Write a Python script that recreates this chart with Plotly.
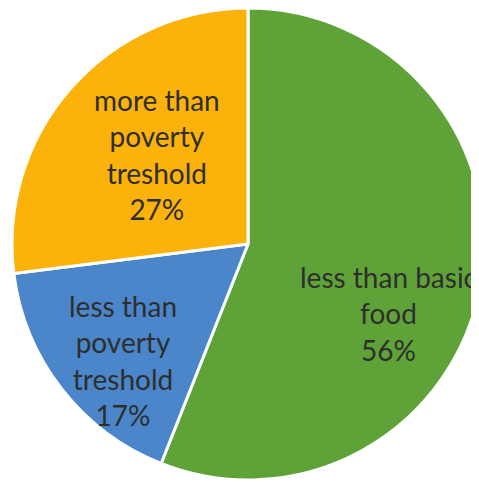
import plotly.graph_objects as go

labels = ["less than basic food", "less than poverty treshold", "more than poverty treshold"]
label_lines = ["less than basic<br>food", "less than<br>poverty<br>treshold", "more than<br>poverty<br>treshold"]
values = [56, 17, 27]
colors = ["#5EA238", "#4A86C9", "#FBB20B"]

W, H = 476, 474  # page body adds an 8px margin

# label anchor points (figure pixels) for the data labels
label_px = [(380, 305), (115, 352), (149, 146)]

fig = go.Figure(go.Pie(
    labels=labels,
    values=values,
    textinfo="none",
    sort=False,
    direction="clockwise",
    rotation=0,
    marker=dict(colors=colors, line=dict(color="white", width=3)),
    hoverinfo="label+percent",
    domain=dict(x=[4 / W, 1.0], y=[2 / H, 1.0]),
    showlegend=False,
))

total = sum(values)
for lab, v, (px, py) in zip(label_lines, values, label_px):
    fig.add_annotation(
        x=px / W, y=1 - py / H, xref="paper", yref="paper",
        text=f"{lab}<br>{round(100 * v / total)}%",
        showarrow=False, xanchor="center", yanchor="middle",
        font=dict(family="Lato", size=28, color="#2e2e2e"),
    )

fig.update_layout(
    width=W, height=H,
    margin=dict(l=0, r=0, t=0, b=0),
    paper_bgcolor="white",
    plot_bgcolor="white",
)

fig.write_html("out.html")
